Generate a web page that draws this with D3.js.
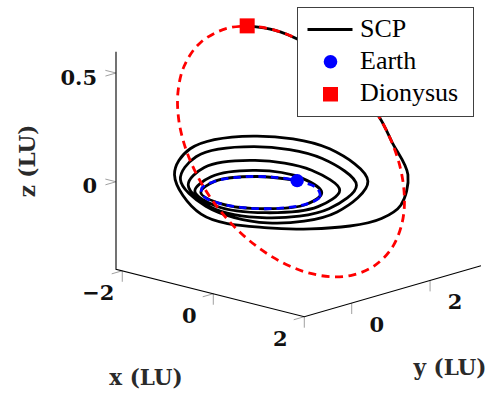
<!DOCTYPE html>
<html>
<head>
<meta charset="utf-8">
<script src="https://cdn.jsdelivr.net/npm/d3@7"></script>
<style>
  body { margin: 0; background: #fff; }
  svg { display: block; }
</style>
</head>
<body>
<div id="chart-area"></div>
<script>
// axis limits (LU) and ticks
const xLim = [-2.138, 2.0];
const yLim = [-1.21, 3.30];
const zLim = [-0.402, 0.598];
const xTicks = [-2, 0, 2];
const yTicks = [0, 2];
const zTicks = [0, 0.5];
const xTickLabels = ["\u22122", "0", "2"];
const yTickLabels = ["0", "2"];
const zTickLabels = ["0", "0.5"];

// spacecraft trajectory (SCP), x / y / z in LU
const scpX = [-0.06, -0.707, -1.0, -0.707, 0, 0.707, 1.01, 0.721, 0, -0.764, -1.09, -0.778, 0, 0.834, 1.26, 0.933,
  0, -0.898, -1.24, -0.856, 0, 0.955, 1.50, 1.131, 0, -1.061, -1.42, -0.948, 0, 1.061, 1.68, 1.266,
  0, -1.174, -1.55, -1.018, 0, 1.167, 1.96, 1.94, 1.80, 1.44, 0.632, -0.211, -0.783, -1.213, -1.580, -1.828, -2.038];
const scpY = [1.0, 0.707, 0, -0.707, -1.0, -0.707, 0, 0.721, 1.05, 0.764, 0, -0.778, -1.14, -0.834, 0, 0.933,
  1.30, 0.898, 0, -0.856, -1.28, -0.955, 0, 1.131, 1.57, 1.061, 0, -0.948, -1.40, -1.061, 0, 1.266,
  1.76, 1.174, 0, -1.018, -1.52, -1.167, 0, 0.83, 1.485, 2.085, 2.617, 3.286, 3.276, 3.111, 2.824, 2.498, 2.022];
const scpZ = [0, 0, 0, 0, 0, 0, 0, 0, 0.012, 0.022, 0.015, 0.006, -0.002, -0.005, 0.002, 0.012,
  0.035, 0.054, 0.05, 0.035, 0, -0.016, 0.005, 0.035, 0.075, 0.10, 0.09, 0.06, 0.01, -0.028, 0, 0.053,
  0.11, 0.137, 0.12, 0.082, -0.02, -0.04, -0.05, -0.06, -0.04, 0.05, 0.13, 0.161, 0.297, 0.394, 0.471, 0.520, 0.554];

// Earth orbit
const earthOrbX = [1, 0.866, 0.5, 0, -0.5, -0.866, -1, -0.866, -0.5, 0, 0.5, 0.866];
const earthOrbY = [0, 0.5, 0.866, 1, 0.866, 0.5, 0, -0.5, -0.866, -1, -0.866, -0.5];
const earthOrbZ = [0, 0, 0, 0, 0, 0, 0, 0, 0, 0, 0, 0];

// Dionysus orbit
const dioOrbX = [0.427, -0.382, -1.213, -1.828, -2.111, -2.104, -1.915, -1.636, -1.325, -1.011, -0.707, -0.418,
  -0.144, 0.116, 0.363, 0.599, 0.822, 1.032, 1.221, 1.378, 1.482, 1.496, 1.367, 1.026];
const dioOrbY = [3.037, 3.306, 3.111, 2.498, 1.691, 0.911, 0.269, -0.213, -0.555, -0.785, -0.928, -1.004,
  -1.026, -1.000, -0.931, -0.818, -0.659, -0.447, -0.172, 0.179, 0.620, 1.161, 1.794, 2.465];
const dioOrbZ = [0, 0.202, 0.394, 0.520, 0.560, 0.532, 0.466, 0.383, 0.297, 0.215, 0.1375, 0.066,
  0, -0.061, -0.118, -0.170, -0.218, -0.261, -0.297, -0.323, -0.333, -0.318, -0.266, -0.162];

// body positions
const earthPos = [-0.06, 1.0, 0];
const dionysusPos = [-2.038, 2.022, 0.554];

const WIDTH = 498, HEIGHT = 393;
// screen frame of the 3d box: corner (xmin,ymin,zmin) and the three axis edges
const O = [116, 269.2];
const AX = [188.3, 47.5];
const AY = [176.7, -51];
const AZ = [0, -217.5];

const fx = d3.scaleLinear().domain(xLim).range([0, 1]);
const fy = d3.scaleLinear().domain(yLim).range([0, 1]);
const fz = d3.scaleLinear().domain(zLim).range([0, 1]);

const proj = (p) => {
  const a = fx(p[0]), b = fy(p[1]), c = fz(p[2]);
  return [O[0] + a * AX[0] + b * AY[0] + c * AZ[0], O[1] + a * AX[1] + b * AY[1] + c * AZ[1]];
};
const zip = (xs, ys, zs) => xs.map((v, i) => [v, ys[i], zs[i]]);

const svg = d3.select("#chart-area")
  .append("svg")
    .attr("width", WIDTH)
    .attr("height", HEIGHT);

const g = svg.append("g");

// ticks
const TL = 11;
const unit = (v) => { const l = Math.hypot(v[0], v[1]); return [v[0] / l, v[1] / l]; };
const ux = unit(AX), uy = unit(AY);
const tickColor = "#a0a0a0";
const tickFont = (s) => s.attr("font-family", "DejaVu Serif").attr("font-weight", "bold")
  .attr("font-size", "21px").attr("fill", "#111").attr("dominant-baseline", "central");

xTicks.forEach((t, i) => {
  const p = proj([t, yLim[0], zLim[0]]);
  g.append("line").attr("x1", p[0]).attr("y1", p[1]).attr("x2", p[0]).attr("y2", p[1] + TL)
    .attr("stroke", tickColor).attr("stroke-width", 1);
  g.append("line").attr("x1", p[0]).attr("y1", p[1]).attr("x2", p[0] - uy[0] * TL).attr("y2", p[1] - uy[1] * TL)
    .attr("stroke", tickColor).attr("stroke-width", 1);
  g.append("text").attr("x", p[0] - 24).attr("y", p[1] + 22)
    .attr("text-anchor", "middle").call(tickFont).text(xTickLabels[i]);
});

yTicks.forEach((t, i) => {
  const p = proj([xLim[1], t, zLim[0]]);
  g.append("line").attr("x1", p[0]).attr("y1", p[1]).attr("x2", p[0]).attr("y2", p[1] + TL)
    .attr("stroke", tickColor).attr("stroke-width", 1);
  g.append("text").attr("x", p[0] + 25).attr("y", p[1] + 21)
    .attr("text-anchor", "middle").call(tickFont).text(yTickLabels[i]);
});

zTicks.forEach((t, i) => {
  const p = proj([xLim[0], yLim[0], t]);
  g.append("line").attr("x1", p[0]).attr("y1", p[1]).attr("x2", p[0] - ux[0] * TL).attr("y2", p[1] - ux[1] * TL)
    .attr("stroke", tickColor).attr("stroke-width", 1);
  g.append("line").attr("x1", p[0]).attr("y1", p[1]).attr("x2", p[0] - uy[0] * TL).attr("y2", p[1] - uy[1] * TL)
    .attr("stroke", tickColor).attr("stroke-width", 1);
  g.append("text").attr("x", p[0] - 19).attr("y", p[1] + 4)
    .attr("text-anchor", "end").call(tickFont).text(zTickLabels[i]);
});

// axis lines
const axisPath = d3.line();
g.append("path")
  .attr("d", axisPath([
    proj([xLim[0], yLim[0], zLim[1]]),
    proj([xLim[0], yLim[0], zLim[0]]),
    proj([xLim[1], yLim[0], zLim[0]]),
    proj([xLim[1], yLim[1], zLim[0]])
  ]))
  .attr("fill", "none").attr("stroke", "#000").attr("stroke-width", 1.1);

// axis labels
const labelStyle = (s) => s.attr("font-family", "DejaVu Serif").attr("font-weight", "bold")
  .attr("font-size", "21.5px").attr("fill", "#2a2a2a").attr("text-anchor", "middle");
g.append("text").attr("x", 146).attr("y", 385).call(labelStyle).text("x (LU)");
g.append("text").attr("x", 450).attr("y", 375).call(labelStyle).text("y (LU)");
g.append("text").attr("transform", "translate(35,161) rotate(-90)").call(labelStyle).text("z (LU)");

// trajectories
const open = d3.line().curve(d3.curveCatmullRom.alpha(0.5));
const closed = d3.line().curve(d3.curveCatmullRomClosed.alpha(0.5));

g.append("path")
  .attr("d", open(zip(scpX, scpY, scpZ).map(proj)))
  .attr("fill", "none").attr("stroke", "#000").attr("stroke-width", 2.8)
  .attr("stroke-linejoin", "round");

g.append("path")
  .attr("d", closed(zip(earthOrbX, earthOrbY, earthOrbZ).map(proj)))
  .attr("fill", "none").attr("stroke", "#0000ff").attr("stroke-width", 2.8)
  .attr("stroke-dasharray", "7.5,5");

g.append("path")
  .attr("d", closed(zip(dioOrbX, dioOrbY, dioOrbZ).map(proj)))
  .attr("fill", "none").attr("stroke", "#ff0000").attr("stroke-width", 2.8)
  .attr("stroke-dasharray", "8,5.5");

// bodies
const pe = proj(earthPos);
g.append("circle").attr("cx", pe[0]).attr("cy", pe[1]).attr("r", 6.7).attr("fill", "#0000ff");
const pd = proj(dionysusPos);
g.append("rect").attr("x", pd[0] - 7.5).attr("y", pd[1] - 7.5).attr("width", 15).attr("height", 15)
  .attr("fill", "#ff0000");

// legend
const lg = svg.append("g").attr("transform", "translate(297.5,7.5)");
lg.append("rect").attr("width", 176).attr("height", 109)
  .attr("fill", "#fff").attr("stroke", "#404040").attr("stroke-width", 1);
lg.append("line").attr("x1", 10).attr("x2", 55).attr("y1", 22).attr("y2", 22)
  .attr("stroke", "#000").attr("stroke-width", 2.8);
lg.append("circle").attr("cx", 33).attr("cy", 54.2).attr("r", 6.8).attr("fill", "#0000ff");
lg.append("rect").attr("x", 25.5).attr("y", 79.5).attr("width", 15).attr("height", 14.5).attr("fill", "#ff0000");
const legendNames = ["SCP", "Earth", "Dionysus"];
lg.selectAll("text.entry").data(legendNames).enter().append("text")
  .attr("class", "entry")
  .attr("x", 62.5)
  .attr("y", (d, i) => 29.5 + i * 32)
  .attr("font-family", "'Liberation Serif', 'Times New Roman', Times, serif")
  .attr("font-size", "26px")
  .attr("fill", "#000")
  .text(d => d);
</script>
</body>
</html>
